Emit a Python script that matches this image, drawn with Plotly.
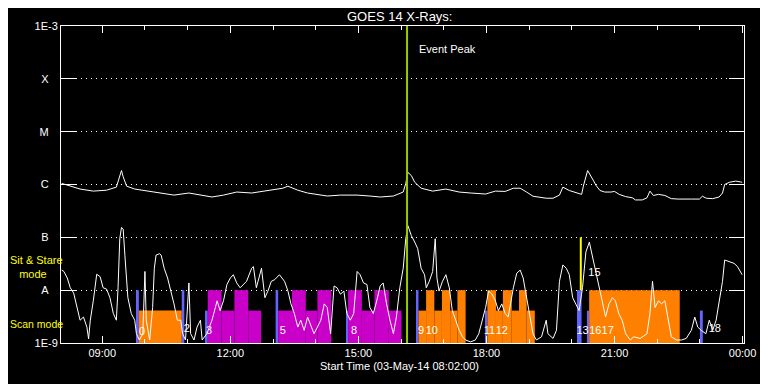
import numpy as np
import pandas as pd
import plotly.graph_objects as go

DAY = pd.Timestamp("2014-05-03")

# ---------------- data (hours of 03-May-2014, flux in W/m^2) ----------------
long_t = [8.05, 8.18, 8.48, 8.79, 9.10, 9.33, 9.41, 9.45, 9.49, 9.57, 9.76, 10.11, 10.45,
          10.68, 11.03, 11.34, 11.57, 11.84, 12.15, 12.50, 12.88, 13.23, 13.35, 13.58,
          13.81, 14.27, 14.58, 14.97, 15.27, 15.51, 15.82, 16.05, 16.11, 16.16, 16.24,
          16.32, 16.47, 16.74, 17.05, 17.36, 17.63, 17.98, 18.21, 18.44, 18.63, 18.79,
          18.94, 19.09, 19.40, 19.56, 19.71, 19.79, 19.94, 20.10, 20.23, 20.27, 20.37,
          20.50, 20.57, 20.66, 20.77, 20.92, 21.00, 21.11, 21.26, 21.42, 21.49, 21.65,
          21.76, 21.83, 21.91, 22.03, 22.18, 22.33, 22.49, 22.80, 22.99, 23.06, 23.15,
          23.30, 23.45, 23.53, 23.58, 23.69, 23.84, 23.95, 23.99]
long_flux = [1.05e-6, 9.7e-7, 8.2e-7, 7.5e-7, 7.8e-7, 8.9e-7, 1.5e-6, 1.84e-6, 1.4e-6, 9.3e-7,
             8.2e-7, 7.5e-7, 6.9e-7, 6.3e-7, 6.9e-7, 6.3e-7, 5.8e-7, 6.3e-7, 7.2e-7, 6.9e-7,
             7.8e-7, 8.5e-7, 9.3e-7, 7.8e-7, 6.9e-7, 6.05e-7, 6.3e-7, 6.3e-7, 6.05e-7, 5.8e-7,
             6.05e-7, 7.2e-7, 1.05e-6, 1.69e-6, 1.48e-6, 1.1e-6, 8.5e-7, 7.5e-7, 8.2e-7,
             7.2e-7, 6.9e-7, 6.6e-7, 7.5e-7, 7.4e-7, 8.5e-7, 8.5e-7, 7.2e-7, 6.0e-7, 5.5e-7,
             5.5e-7, 6.3e-7, 8.9e-7, 7.7e-7, 6.9e-7, 6.5e-7, 9.3e-7, 1.84e-6, 1.21e-6, 9.5e-7,
             7.7e-7, 7.2e-7, 7.2e-7, 7.4e-7, 6.5e-7, 5.9e-7, 5.6e-7, 5.1e-7, 5.1e-7, 5.6e-7,
             7.5e-7, 6.2e-7, 6.5e-7, 6.2e-7, 5.4e-7, 5.3e-7, 5.3e-7, 5.3e-7, 6.0e-7, 5.5e-7,
             5.4e-7, 5.8e-7, 6.9e-7, 1.0e-6, 1.1e-6, 1.16e-6, 1.12e-6, 1.1e-6]

short_t = [8.05, 8.10, 8.18, 8.25, 8.33, 8.41, 8.48, 8.56, 8.64, 8.68, 8.72, 8.79, 8.87, 8.95,
           9.02, 9.10, 9.18, 9.26, 9.33, 9.37, 9.41, 9.45, 9.49, 9.53, 9.57, 9.60, 9.68, 9.76,
           9.80, 9.87, 9.95, 10.00, 10.03, 10.11, 10.18, 10.22, 10.26, 10.34, 10.38, 10.45,
           10.53, 10.61, 10.68, 10.76, 10.84, 10.88, 10.95, 11.03, 11.07, 11.15, 11.22, 11.30,
           11.34, 11.45, 11.57, 11.65, 11.69, 11.76, 11.84, 11.92, 12.00, 12.07, 12.15, 12.23,
           12.30, 12.38, 12.50, 12.54, 12.61, 12.69, 12.73, 12.81, 12.88, 12.96, 13.04, 13.15,
           13.27, 13.35, 13.42, 13.50, 13.58, 13.65, 13.73, 13.81, 13.89, 13.96, 14.04, 14.12,
           14.20, 14.27, 14.35, 14.43, 14.50, 14.58, 14.66, 14.73, 14.81, 14.89, 14.97, 15.04,
           15.12, 15.20, 15.27, 15.35, 15.43, 15.51, 15.58, 15.66, 15.74, 15.82, 15.89, 15.97,
           16.05, 16.11, 16.16, 16.24, 16.32, 16.39, 16.47, 16.55, 16.59, 16.66, 16.74, 16.80,
           16.84, 16.89, 16.97, 17.05, 17.13, 17.20, 17.28, 17.36, 17.44, 17.51, 17.63, 17.74,
           17.82, 17.90, 17.98, 18.05, 18.13, 18.21, 18.28, 18.36, 18.44, 18.51, 18.63, 18.71,
           18.79, 18.86, 18.94, 19.02, 19.09, 19.17, 19.29, 19.40, 19.44, 19.56, 19.64, 19.71,
           19.79, 19.87, 19.94, 20.02, 20.10, 20.17, 20.25, 20.33, 20.41, 20.48, 20.56, 20.64,
           20.71, 20.79, 20.87, 20.95, 21.02, 21.10, 21.18, 21.26, 21.37, 21.45, 21.60, 21.76,
           21.83, 21.89, 21.95, 22.03, 22.10, 22.18, 22.26, 22.33, 22.45, 22.57, 22.68, 22.80,
           22.88, 22.95, 23.03, 23.14, 23.22, 23.30, 23.38, 23.45, 23.53, 23.58, 23.69, 23.80,
           23.88, 23.95, 23.99]
short_flux = [2.4e-8, 2.26e-8, 1.7e-8, 1.11e-8, 8.8e-9, 4.7e-9, 2.7e-9, 3.1e-9, 2.0e-9, 1.2e-9,
              2.7e-9, 6.3e-9, 2.0e-8, 1.8e-8, 1.11e-8, 1.05e-8, 7.2e-9, 3.6e-9, 2.7e-9, 1.11e-8,
              9.4e-8, 1.54e-7, 1.43e-7, 4.6e-8, 1.28e-8, 7.2e-9, 3.6e-9, 2.7e-9, 1.5e-9, 1.14e-9,
              1.5e-9, 2.26e-8, 2.7e-9, 1.14e-9, 4.7e-9, 2.6e-8, 4.6e-8, 4.9e-8, 4.6e-8, 2.6e-8,
              1.7e-8, 9.6e-9, 5.5e-9, 2.7e-9, 2.7e-9, 1.5e-9, 1.14e-9, 1.37e-8, 1.5e-9, 1.14e-9,
              2.0e-9, 2.7e-9, 1.14e-9, 1.5e-9, 2.7e-9, 4.7e-9, 6.3e-9, 4.1e-9, 6.3e-9, 1.28e-8,
              1.7e-8, 1.96e-8, 1.37e-8, 1.11e-8, 1.28e-8, 1.47e-8, 2.6e-8, 2.8e-8, 1.11e-8,
              1.96e-8, 2.6e-8, 7.2e-9, 9.6e-9, 1.47e-8, 1.58e-8, 1.96e-8, 1.47e-8, 9.6e-9,
              5.5e-9, 3.6e-9, 2.0e-9, 2.7e-9, 1.74e-9, 3.1e-9, 2.0e-9, 1.5e-9, 2.0e-9, 2.7e-9,
              5.5e-9, 4.7e-9, 1.5e-9, 1.2e-8, 1.11e-8, 8.4e-9, 9.6e-9, 3.6e-9, 2.7e-9, 3.6e-9,
              2.26e-8, 1.96e-8, 1.37e-8, 1.28e-8, 4.7e-9, 3.6e-9, 6.3e-9, 1.2e-8, 1.37e-8,
              5.5e-9, 2.7e-9, 1.5e-9, 3.1e-9, 1.11e-8, 2.6e-8, 9.4e-8, 1.66e-7, 1.08e-7, 8.1e-8,
              6.1e-8, 2.6e-8, 1.96e-8, 1.11e-8, 1.47e-8, 2.26e-8, 9.4e-8, 1.7e-8, 9.6e-9,
              1.47e-8, 1.96e-8, 1.11e-8, 4.1e-9, 2.7e-9, 1.74e-9, 1.31e-9, 1.14e-9, 1.05e-9,
              1.14e-9, 1.5e-9, 2.7e-9, 4.7e-9, 9.6e-9, 8.4e-9, 6.3e-9, 4.1e-9, 5.5e-9, 3.6e-9,
              3.1e-9, 1.11e-8, 2.1e-8, 2.4e-8, 1.7e-8, 7.2e-9, 3.1e-9, 1.5e-9, 1.14e-9, 1.31e-9,
              2.7e-9, 1.5e-9, 1.22e-9, 1.74e-9, 1.47e-8, 3.0e-8, 2.6e-8, 1.96e-8, 7.2e-9, 5.5e-9,
              4.1e-9, 1.11e-8, 5.3e-8, 8.1e-8, 4.6e-8, 2.26e-8, 1.11e-8, 6.3e-9, 3.1e-9, 5.5e-9,
              7.2e-9, 6.3e-9, 3.6e-9, 2.7e-9, 1.5e-9, 1.14e-9, 1.31e-9, 1.22e-9, 1.5e-9, 3.6e-9,
              1.47e-8, 4.7e-9, 6.3e-9, 5.5e-9, 6.3e-9, 2.7e-9, 1.31e-9, 1.14e-9, 1.14e-9,
              1.22e-9, 1.74e-9, 3.1e-9, 2.0e-9, 1.74e-9, 1.5e-9, 2.7e-9, 1.74e-9, 2.7e-9, 6.3e-9,
              1.47e-8, 3.72e-8, 3.46e-8, 3.22e-8, 2.8e-8, 2.26e-8, 1.96e-8]

# IRIS observations: start/end (hours), bar top (flux), kind
obs_start = [9.811, 9.857, 10.862, 11.425, 11.471, 11.795, 12.096, 12.420, 13.061, 13.121,
             13.445, 13.769, 14.040, 14.712, 14.758, 15.082, 15.376, 15.714, 16.362, 16.408,
             16.586, 16.779, 16.957, 17.149, 17.320, 17.975, 18.021, 18.223, 18.385, 18.593,
             18.762, 18.941, 20.121, 20.353, 20.406, 23.000]
obs_end = [9.857, 10.862, 10.922, 11.471, 11.795, 12.096, 12.420, 12.721, 13.121, 13.445,
           13.769, 14.040, 14.364, 14.758, 15.082, 15.376, 15.714, 16.008, 16.408, 16.586,
           16.779, 16.957, 17.149, 17.320, 17.512, 18.021, 18.223, 18.385, 18.593, 18.762,
           18.941, 19.133, 20.228, 20.406, 22.528, 23.068]
obs_top = [1e-8, 4.1e-9, 1e-8, 4.1e-9, 1e-8, 4.1e-9, 1e-8, 4.1e-9, 1e-8, 4.1e-9,
           1e-8, 4.1e-9, 1e-8, 4.1e-9, 1e-8, 4.1e-9, 1e-8, 4.1e-9, 1e-8, 4.1e-9,
           1e-8, 4.1e-9, 1e-8, 4.1e-9, 1e-8, 4.1e-9, 1e-8, 4.1e-9, 1e-8, 4.1e-9,
           1e-8, 4.1e-9, 1e-8, 4.1e-9, 1e-8, 4.1e-9]
obs_kind = ["cal", "orange", "cal", "cal", "magenta", "magenta", "magenta", "magenta", "cal",
            "magenta", "magenta", "magenta", "magenta", "cal", "magenta", "magenta", "magenta",
            "magenta", "cal", "orange", "orange", "orange", "orange", "orange", "orange", "cal",
            "orange", "orange", "orange", "orange", "orange", "orange", "cal", "cal", "orange",
            "cal"]

label_text = ["0", "2", "3", "5", "8", "9", "10", "11", "12", "13", "16", "17", "15", "18"]
label_t = [9.93, 10.98, 11.50, 13.23, 14.90, 16.47, 16.72, 18.07, 18.36, 20.25, 20.55,
           20.84, 20.53, 23.35]
label_flux = [1.6e-9, 1.8e-9, 1.7e-9, 1.7e-9, 1.7e-9, 1.7e-9, 1.7e-9, 1.7e-9, 1.7e-9,
              1.7e-9, 1.7e-9, 1.7e-9, 2.1e-8, 1.8e-9]

ytick_vals = [1e-9, 1e-8, 1e-7, 1e-6, 1e-5, 1e-4, 1e-3]
ytick_text = ["1E-9", "A\u00a0\u00a0\u00a0", "B\u00a0\u00a0\u00a0", "C\u00a0\u00a0\u00a0",
              "M\u00a0\u00a0\u00a0", "X\u00a0\u00a0\u00a0", "1E-3"]
xtick_hours = [9, 12, 15, 18, 21, 24]
xtick_text = ["09:00", "12:00", "15:00", "18:00", "21:00", "00:00"]
x_start, x_end = 8 + 2 / 60, 24 + 2 / 60
event_peak_t = 16.14
sit_peak_t = 20.21
sit_peak_range = [1e-8, 1e-7]

# ---------------- helpers ----------------
def T(h):
    return DAY + pd.to_timedelta(np.asarray(h, dtype=float), unit="h")

colors = {"cal": "#6464ff", "orange": "#ff8000", "magenta": "#c800c8"}
FONT = "Liberation Sans"

fig = go.Figure()

s = np.array(obs_start)
e = np.array(obs_end)
top = np.array(obs_top)
kind = np.array(obs_kind)
for k, c in colors.items():
    m = kind == k
    fig.add_trace(go.Bar(
        x=T((s[m] + e[m]) / 2), y=top[m] - 1e-9, base=1e-9,
        width=(e[m] - s[m]) * 3600000, marker=dict(color=c, line=dict(width=0)),
        showlegend=False, hoverinfo="skip"))

fig.add_trace(go.Scatter(x=T(long_t), y=long_flux, mode="lines",
                         line=dict(color="white", width=1), showlegend=False))
fig.add_trace(go.Scatter(x=T(short_t), y=short_flux, mode="lines",
                         line=dict(color="white", width=1), showlegend=False))
fig.add_trace(go.Scatter(x=T([event_peak_t, event_peak_t]), y=[1e-9, 1e-3], mode="lines",
                         line=dict(color="#99cc00", width=2), showlegend=False))
fig.add_trace(go.Scatter(x=T([sit_peak_t, sit_peak_t]), y=sit_peak_range, mode="lines",
                         line=dict(color="#ffff00", width=2), showlegend=False))
fig.add_trace(go.Scatter(x=T(label_t), y=label_flux, mode="text", text=label_text,
                         textfont=dict(color="white", size=11, family=FONT),
                         showlegend=False))

fig.update_layout(
    width=760, height=376,
    margin=dict(l=53, r=18, t=12, b=41),
    paper_bgcolor="black", plot_bgcolor="black",
    font=dict(family=FONT, color="white", size=11),
    barmode="overlay",
    xaxis=dict(type="date", range=[T(x_start), T(x_end)],
               tickvals=T(xtick_hours), ticktext=xtick_text,
               ticks="inside", ticklen=7, tickcolor="white", tickwidth=1,
               minor=dict(ticks="inside", ticklen=4, dtick=3600000,
                          tick0=T(9), tickcolor="white"),
               showline=True, linecolor="white", linewidth=1, mirror="ticks",
               showgrid=False, zeroline=False,
               tickfont=dict(size=11, color="white")),
    yaxis=dict(type="log", range=[-9, -3],
               tickvals=ytick_vals, ticktext=ytick_text,
               ticks="inside", ticklen=15, tickcolor="white", tickwidth=1,
               showline=True, linecolor="white", linewidth=1, mirror="ticks",
               showgrid=True, gridcolor="white", griddash="1px,4px", gridwidth=1,
               zeroline=False, tickfont=dict(size=11, color="white")),
    annotations=[
        dict(text="GOES 14 X-Rays:", xref="paper", yref="paper", x=0.495, y=1.029,
             xanchor="center", yanchor="middle", showarrow=False,
             font=dict(size=13, color="white")),
        dict(text="Start Time (03-May-14 08:02:00)", xref="paper", yref="paper",
             x=0.495, y=-0.074, xanchor="center", yanchor="middle", showarrow=False,
             font=dict(size=11, color="white")),
        dict(text="Event Peak", xref="x", yref="paper", x=T(event_peak_t), xshift=10,
             y=0.927, xanchor="left", yanchor="middle", showarrow=False,
             font=dict(size=11, color="white")),
        dict(text="Sit & Stare<br>\u00a0\u00a0\u00a0mode", xref="paper", yref="paper",
             x=-0.0769, y=0.2412, xanchor="left", yanchor="middle", align="left",
             showarrow=False, font=dict(size=11, color="#ffff00")),
        dict(text="Scan mode", xref="paper", yref="paper", x=-0.0769, y=0.0587,
             xanchor="left", yanchor="middle", showarrow=False,
             font=dict(size=10.5, color="#ffff00")),
    ],
)

fig.write_html("out.html")
